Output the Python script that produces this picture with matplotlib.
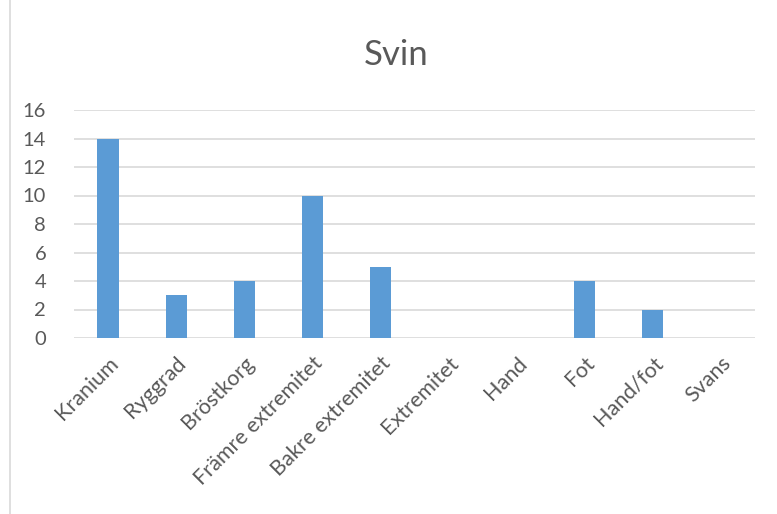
import matplotlib.pyplot as plt
import numpy as np

kategorier = ["Kranium", "Ryggrad", "Bröstkorg", "Främre extremitet", "Bakre extremitet",
              "Extremitet", "Hand", "Fot", "Hand/fot", "Svans"]
antal = [14, 3, 4, 10, 5, 0, 0, 4, 2, 0]
y_ticks = [0, 2, 4, 6, 8, 10, 12, 14, 16]

plt.rcParams['font.family'] = ['Lato', 'DejaVu Sans']

fig = plt.figure(figsize=(7.77, 5.14), dpi=100)
W, H = 777, 514
ax = fig.add_axes([74 / W, 1 - 338 / H, (755 - 74) / W, (338 - 110) / H])

x = np.arange(len(kategorier))
ax.bar(x, antal, width=0.31, color='#5B9BD5', zorder=3)

ax.set_xlim(-0.5, len(kategorier) - 0.5)
ax.set_ylim(0, 16)
ax.set_yticks(y_ticks)
ax.yaxis.grid(True, color='#D9D9D9', linewidth=1.2, zorder=0)
ax.tick_params(axis='y', length=0, labelsize=14.5, labelcolor='#595959', pad=20)
ax.tick_params(axis='x', length=0)
ax.set_xticks(x)
ax.set_xticklabels(kategorier, rotation=45, ha='right', rotation_mode='anchor',
                   fontsize=15.5, color='#595959')
for lbl in ax.get_xticklabels():
    lbl.set_y(-0.045)
for s in ax.spines.values():
    s.set_visible(False)

fig.text(396 / W, 1 - 55 / H, "Svin", ha='center', va='center', fontsize=25, color='#595959')

# ram till vänster
fig.add_artist(plt.Line2D([10 / W, 10 / W], [0, 1], color='#D9D9D9', linewidth=1.2))

plt.savefig("out.png", dpi=100)
